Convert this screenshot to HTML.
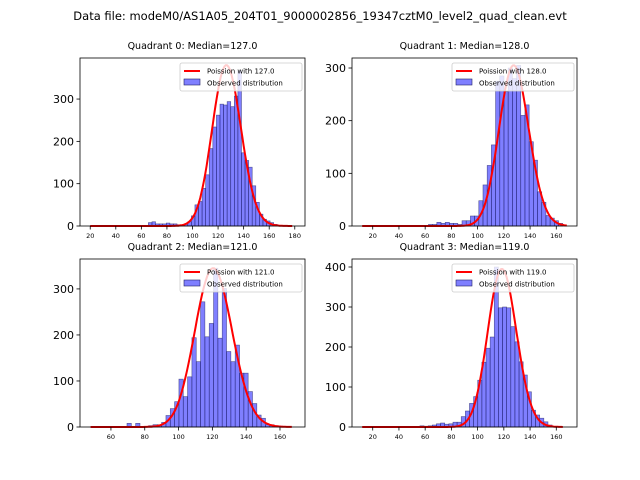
<!DOCTYPE html>
<html><head><meta charset="utf-8"><style>
body{margin:0;background:#fff;}
svg{display:block;font-family:"DejaVu Sans","Liberation Sans",sans-serif;}
</style></head><body>
<svg id="fig" width="640" height="480" viewBox="0 0 640 480">
<text x="320" y="20" text-anchor="middle" font-size="11.5">Data file: modeM0/AS1A05_204T01_9000002856_19347cztM0_level2_quad_clean.evt</text>
</svg>
<script>
// ---- data ----
const q0Counts=[8,10,5,5,5,7,5,5,3,2,5,10,24,50,58,89,121,183,234,262,288,286,294,282,307,367,173,155,139,95,56,28,16,12,8,4];
const q1Counts=[3,3,7,5,7,5,5,3,10,10,19,19,48,78,115,154,275,285,255,300,280,305,210,230,160,125,65,45,20,15,10,5];
const q2Counts=[8,0,8,0,0,3,5,5,10,25,40,55,104,66,109,194,142,272,196,225,345,193,301,164,142,178,117,117,77,51,26,19,5,5,3,2];
const q3Counts=[3,2,3,5,8,10,7,8,12,12,26,40,59,76,117,162,197,225,400,298,300,298,251,213,163,130,88,42,30,22,13,5];
const binStart=[65.5,62.5,69.5,56];
const binWidth=[2.8,3.2,2.56,3.15];
const medians=[127.0,128.0,121.0,119.0];
const curvePeaks=[380,305,345,395];
const curveRange=[[20,178],[12,168],[48,167],[12,165]];
const xTicks=[[20,40,60,80,100,120,140,160,180],[20,40,60,80,100,120,140,160],[60,80,100,120,140,160],[20,40,60,80,100,120,140,160]];
const yTicks=[[0,100,200,300],[0,100,200,300],[0,100,200,300],[0,100,200,300,400]];
const xLims=[[12,188],[4.2,175.8],[41.7,174.8],[4.2,175.8]];
const yMax=[397,319,365,420];
const allCounts=[q0Counts,q1Counts,q2Counts,q3Counts];
// ---- drawing ----
const NS="http://www.w3.org/2000/svg";
const svg=document.getElementById('fig');
function mk(tag,attrs,parent){const e=document.createElementNS(NS,tag);for(const k in attrs)e.setAttribute(k,attrs[k]);(parent||svg).appendChild(e);return e;}
const boxes=[[80,58,225,168],[352,58,225,168],[80,259,225,168],[352,259,225,168]];
function lnFact(n){let s=0;for(let i=2;i<=n;i++)s+=Math.log(i);return s;}
for(let q=0;q<4;q++){
  const [L,T,W,H]=boxes[q];
  const g=mk('g',{});
  
  
  const xs=v=>L+(v-xLims[q][0])/(xLims[q][1]-xLims[q][0])*W;
  const ys=v=>T+H-v/yMax[q]*H;
  const t=mk('text',{x:L+W/2,y:T-9,'text-anchor':'middle','font-size':'9.5'},g);
  t.textContent='Quadrant '+q+': Median='+medians[q].toFixed(1);
  
  
  // bars
  allCounts[q].forEach((c,i)=>{
    const x0=binStart[q]+i*binWidth[q];
    const r=mk('rect',{x:xs(x0),y:ys(c),width:xs(x0+binWidth[q])-xs(x0),height:ys(0)-ys(c),fill:'rgba(0,0,255,0.5)',stroke:'#222266','stroke-width':'0.6','stroke-opacity':'0.7'},g);
    
    
  });
  // poisson curve
  const lam=medians[q];
  const peakPmf=Math.exp(Math.round(lam)*Math.log(lam)-lam-lnFact(Math.round(lam)));
  let d='';
  for(let k=curveRange[q][0];k<=curveRange[q][1];k++){
    const p=Math.exp(k*Math.log(lam)-lam-lnFact(k))/peakPmf*curvePeaks[q];
    d+=(d?'L':'M')+xs(k).toFixed(1)+','+ys(p).toFixed(1);
  }
  const pl=mk('path',{d:d,fill:'none',stroke:'#ff0000','stroke-width':'2'},g);
  
  
  // frame
  const fr=mk('rect',{x:L,y:T,width:W,height:H,fill:'none',stroke:'#000','stroke-width':'0.8'},g);
  
  
  xTicks[q].forEach(v=>{
    mk('line',{x1:xs(v),x2:xs(v),y1:T+H,y2:T+H+3.5,stroke:'#000','stroke-width':'0.8'},g);
    const tx=mk('text',{x:xs(v),y:T+H+12,'text-anchor':'middle','font-size':'6.5'},g);
    tx.textContent=v;
    
    
  });
  yTicks[q].forEach(v=>{
    mk('line',{x1:L-3.5,x2:L,y1:ys(v),y2:ys(v),stroke:'#000','stroke-width':'0.8'},g);
    const ty=mk('text',{x:L-6,y:ys(v)+4,'text-anchor':'end','font-size':'11'},g);
    ty.textContent=v;
    
    
  });
  // legend
  const lg=mk('g',{},g);
  
  
  const lx=L+W-125, ly=T+5;
  mk('rect',{x:lx,y:ly,width:122,height:28,fill:'#fff','fill-opacity':'0.8',stroke:'#ccc','stroke-width':'0.8',rx:2},lg);
  mk('line',{x1:lx+4,x2:lx+20,y1:ly+8,y2:ly+8,stroke:'#ff0000','stroke-width':'2'},lg);
  const l1=mk('text',{x:lx+27,y:ly+10.5,'font-size':'7'},lg);
  l1.textContent='Poission with '+medians[q].toFixed(1);
  
  
  mk('rect',{x:lx+4,y:ly+16,width:16,height:6,fill:'rgba(0,0,255,0.5)',stroke:'#222266','stroke-width':'0.6'},lg);
  const l2=mk('text',{x:lx+27,y:ly+22.5,'font-size':'7'},lg);
  l2.textContent='Observed distribution';
  
  
}
</script>
</body></html>
